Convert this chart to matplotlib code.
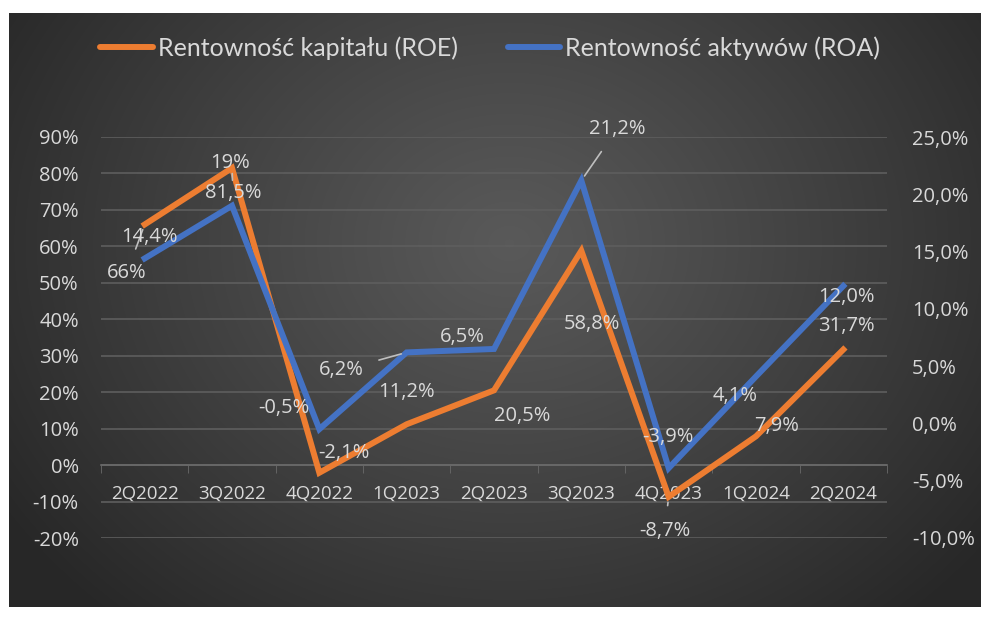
import numpy as np
import matplotlib
matplotlib.use("Agg")
import matplotlib.pyplot as plt
from matplotlib.ticker import FuncFormatter, MultipleLocator

plt.rcParams['font.family'] = ['Open Sans', 'DejaVu Sans']

# Data
quarters = ['2Q2022', '3Q2022', '4Q2022', '1Q2023', '2Q2023',
            '3Q2023', '4Q2023', '1Q2024', '2Q2024']
roe = [66.0, 81.5, -2.1, 11.2, 20.5, 58.8, -8.7, 7.9, 31.7]
roa = [14.4, 19.0, -0.5, 6.2, 6.5, 21.2, -3.9, 4.1, 12.0]
roe_labels = ['66%', '81,5%', '-2,1%', '11,2%', '20,5%', '58,8%', '-8,7%', '7,9%', '31,7%']
roa_labels = ['14,4%', '19%', '-0,5%', '6,2%', '6,5%', '21,2%', '-3,9%', '4,1%', '12,0%']

# label offsets in pixels (dx right, dy down) and whether a leader line is drawn
roe_off = [(-18, 49, True), (1, 25, True), (25, -20, False), (0, -32, False), (28, 26, False),
           (11, 73, False), (-4, 34, True), (21, -10, False), (3, -24, False)]
roa_off = [(5, -21, False), (-2, -43, False), (-35, -21, False), (-65, 18, True), (-32, -12, False),
           (36, -52, True), (-1, -31, False), (-21, 20, False), (3, 11, False)]

ORANGE = '#ED7D31'
BLUE = '#4472C4'
TXT = '#D9D9D9'
W, H = 981, 622

fig = plt.figure(figsize=(W / 100, H / 100), dpi=100)
fig.patch.set_facecolor('white')

# gradient background panel
bg = fig.add_axes([9 / W, (H - 607) / H, (W - 9) / W, (607 - 13) / H])
yy, xx = np.mgrid[0:594, 0:972]
r = np.sqrt(((xx - 500) / 600) ** 2 + ((yy - 230) / 500) ** 2)
r = np.clip(r, 0, 1)
shade = 0.35 - 0.195 * r ** 1.1
bg.imshow(np.dstack([shade] * 3), aspect='auto', extent=[0, 1, 0, 1])
bg.set_axis_off()

ax = fig.add_axes([101 / W, (H - 538) / H, 786 / W, 401 / H])
ax.patch.set_alpha(0)
ax2 = ax.twinx()
ax2.patch.set_alpha(0)

x = np.arange(len(quarters))
ax.plot(x, np.array(roe) / 100, color=ORANGE, lw=4.3, solid_joinstyle='miter', zorder=3)
ax2.plot(x, np.array(roa) / 100, color=BLUE, lw=4.3, solid_joinstyle='miter', zorder=3)

ax.set_xlim(-0.5, len(quarters) - 0.5)
ax.set_ylim(-0.2, 0.9)
ax2.set_ylim(-0.10, 0.25)

ax.yaxis.set_major_locator(MultipleLocator(0.1))
ax2.yaxis.set_major_locator(MultipleLocator(0.05))
ax.yaxis.set_major_formatter(FuncFormatter(lambda v, p: f'{v * 100:.0f}%'))
ax2.yaxis.set_major_formatter(FuncFormatter(lambda v, p: f'{v * 100:.1f}%'.replace('.', ',')))
ax.grid(axis='y', color='#5E5E5E', lw=1.2)
ax.set_axisbelow(True)

ax.set_xticks(x)
ax.set_xticklabels(quarters)
ax.set_xticks(np.arange(-0.5, len(quarters)), minor=True)
ax.tick_params(axis='x', which='major', length=0, pad=14, colors=TXT, labelsize=13.5)
ax.tick_params(axis='x', which='minor', length=6, color='#6A6A6A', direction='out')
ax.tick_params(axis='y', length=0, pad=16, colors=TXT, labelsize=14.5)
ax2.tick_params(axis='y', length=0, pad=18, colors=TXT, labelsize=14.5)

for a in (ax, ax2):
    for s in a.spines.values():
        s.set_visible(False)
ax.spines['bottom'].set_visible(True)
ax.spines['bottom'].set_position(('data', 0))
ax.spines['bottom'].set_color('#6A6A6A')
ax.spines['bottom'].set_linewidth(1.2)


def put_labels(a, vals, labels, offs):
    for i, (v, lab, (dx, dy, lead)) in enumerate(zip(vals, labels, offs)):
        arrow = dict(arrowstyle='-', color='#BFBFBF', lw=1.2, shrinkA=9, shrinkB=4) if lead else None
        a.annotate(lab, (i, v / 100), xytext=(dx * 0.72, -dy * 0.72), textcoords='offset points',
                   ha='center', va='center', color=TXT, fontsize=14.5,
                   arrowprops=arrow, zorder=5)


put_labels(ax, roe, roe_labels, roe_off)
put_labels(ax2, roa, roa_labels, roa_off)

# legend
h1, = ax.plot([], [], color=ORANGE, lw=4.3, solid_capstyle='round')
h2, = ax.plot([], [], color=BLUE, lw=4.3, solid_capstyle='round')
fig.legend([h1, h2], ['Rentowność kapitału (ROE)', 'Rentowność aktywów (ROA)'],
           loc='center', bbox_to_anchor=(490 / W, 1 - 48 / H), ncol=2, frameon=False,
           prop={'family': ['Lato', 'DejaVu Sans'], 'size': 18}, labelcolor=TXT,
           handlelength=2.1, handletextpad=0.2, columnspacing=2.0)

fig.savefig('out.png', dpi=100)
